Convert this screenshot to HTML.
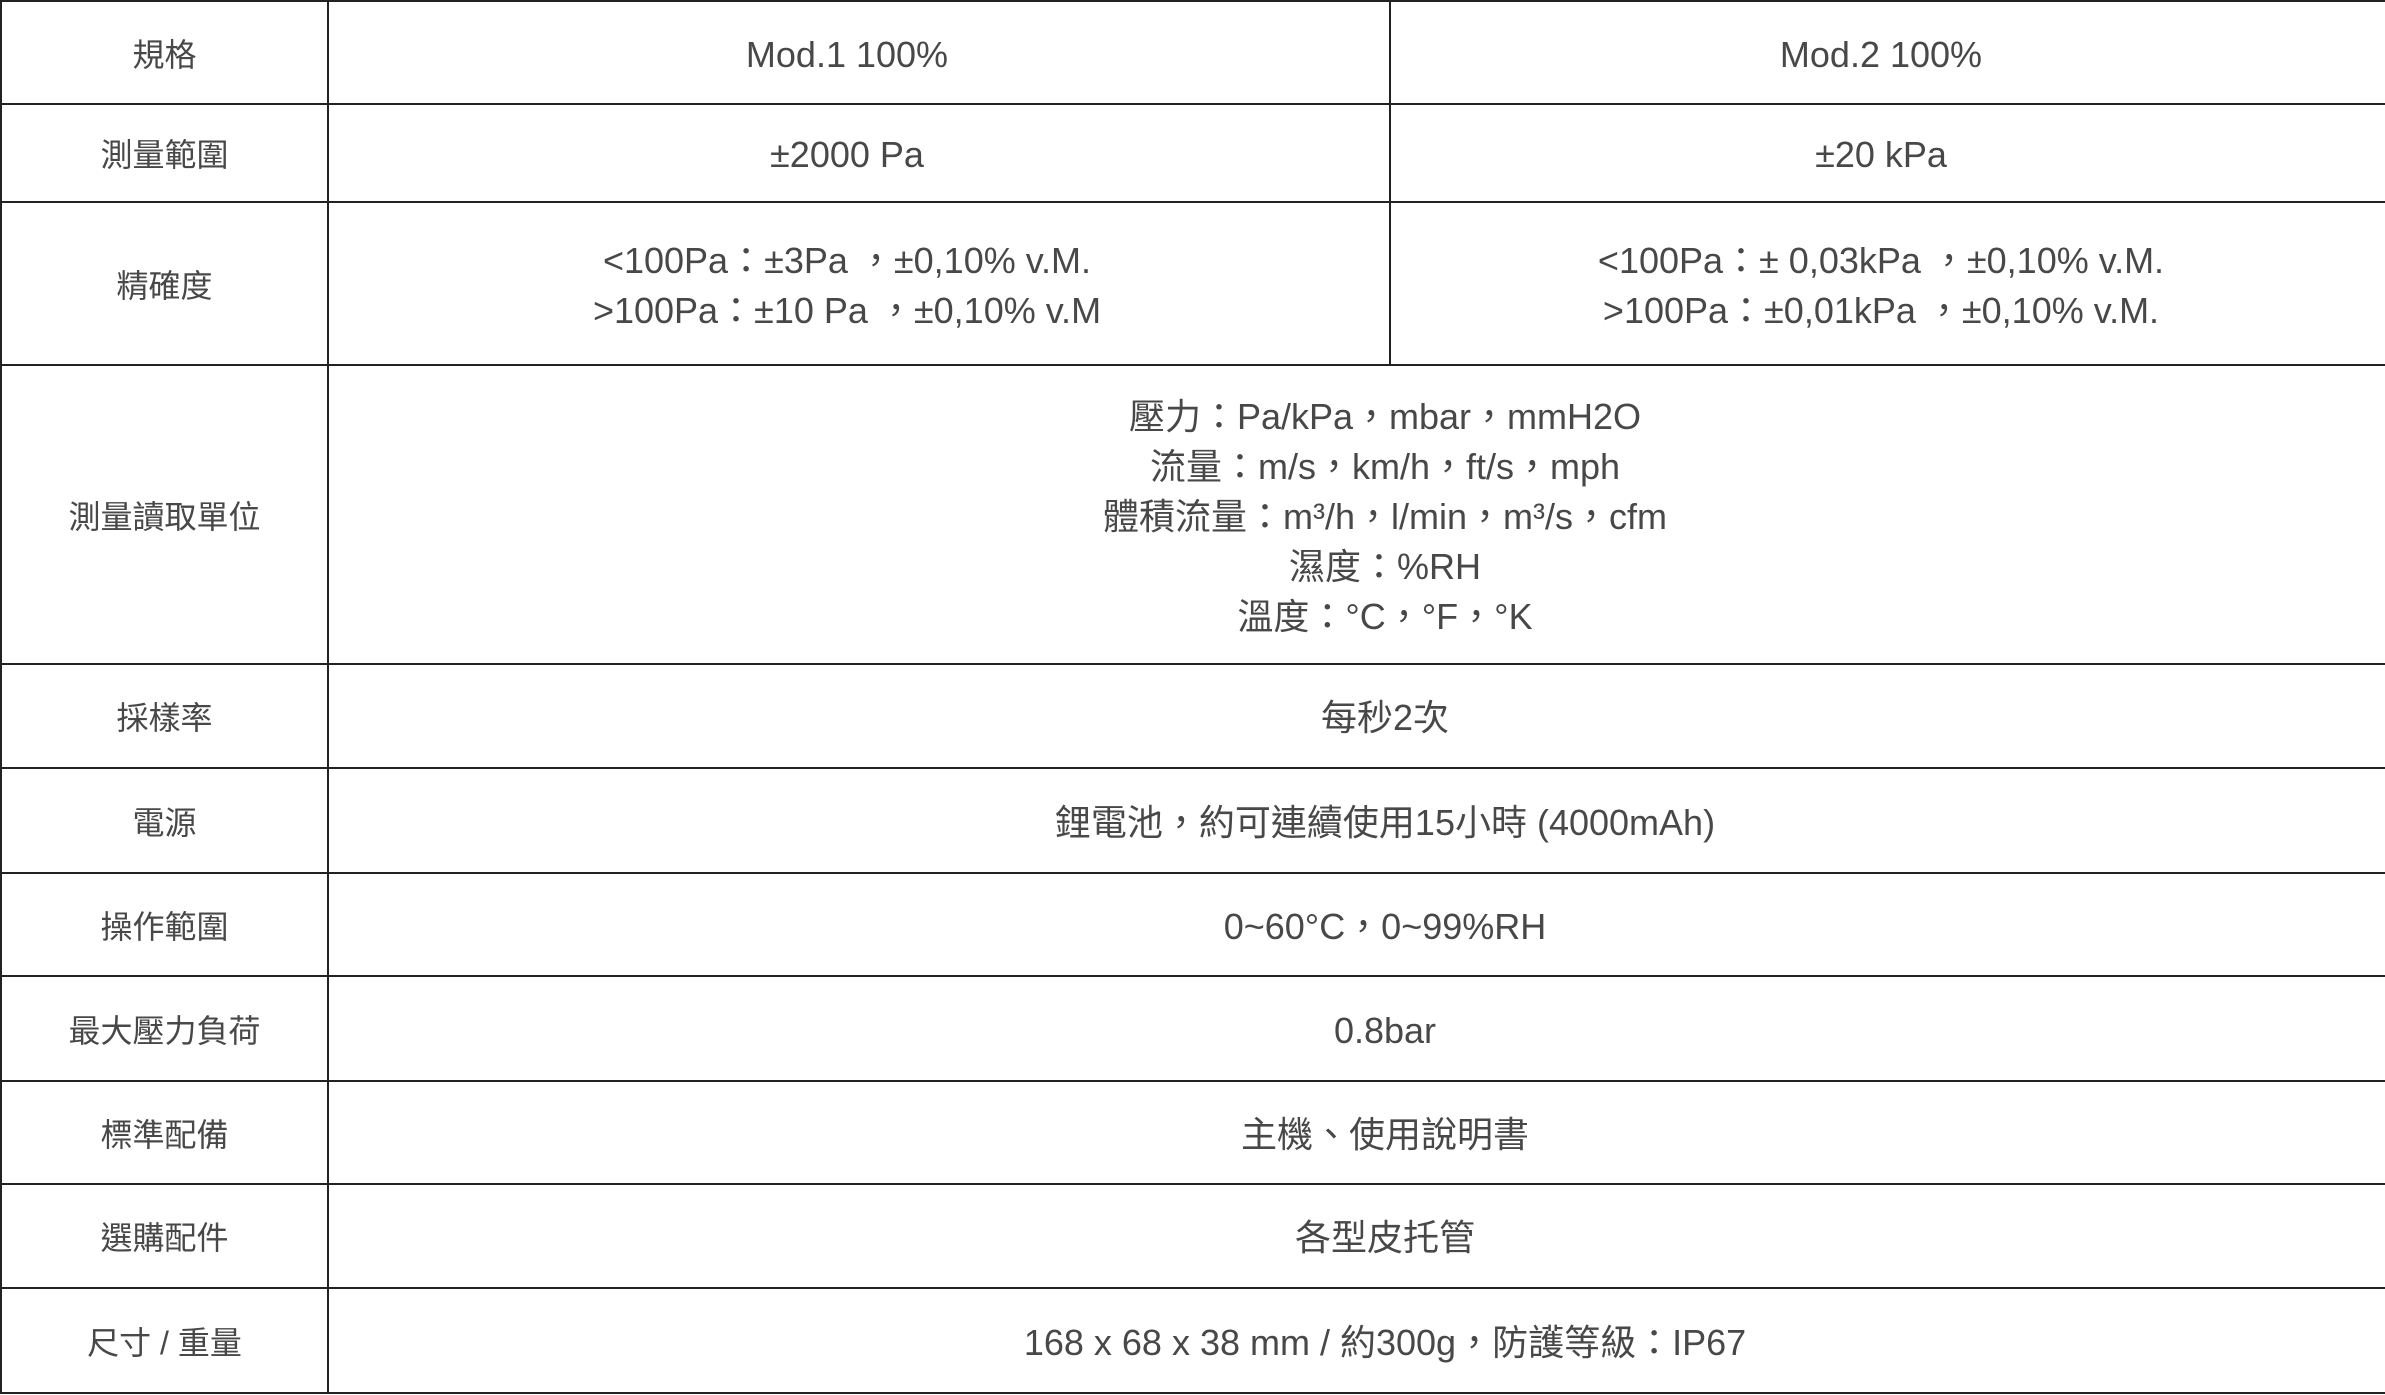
<!DOCTYPE html>
<html><head><meta charset="utf-8"><style>
html,body{margin:0;padding:0;background:#fff;}
body{width:2385px;height:1395px;overflow:hidden;}
table{position:absolute;left:0;top:0;border-collapse:collapse;table-layout:fixed;width:2385px;}
td{border:2px solid #222;text-align:center;vertical-align:middle;padding:4px 0 0 0;color:#484848;
font-family:"Liberation Sans","Noto Sans CJK TC",sans-serif;font-size:36px;line-height:50px;}
td.h{font-size:32px;padding-left:0;}
td.m{padding-left:56px;}
td.c2{padding-right:24px;}
td.c3{padding-right:14px;}
</style></head><body>
<table>
<colgroup><col style="width:327px"><col style="width:1062px"><col style="width:996px"></colgroup>
<tr style="height:103px"><td class="h">規格</td><td class="c2">Mod.1 100%</td><td class="c3">Mod.2 100%</td></tr>
<tr style="height:98px"><td class="h">測量範圍</td><td class="c2">±2000 Pa</td><td class="c3">±20 kPa</td></tr>
<tr style="height:163px"><td class="h">精確度</td><td class="c2">&lt;100Pa：±3Pa ，±0,10% v.M.<br>&gt;100Pa：±10 Pa ，±0,10% v.M</td><td class="c3">&lt;100Pa：± 0,03kPa ，±0,10% v.M.<br>&gt;100Pa：±0,01kPa ，±0,10% v.M.</td></tr>
<tr style="height:299px"><td class="h">測量讀取單位</td><td colspan="2" class="m">壓力：Pa/kPa，mbar，mmH2O<br>流量：m/s，km/h，ft/s，mph<br>體積流量：m³/h，l/min，m³/s，cfm<br>濕度：%RH<br>溫度：°C，°F，°K</td></tr>
<tr style="height:104px"><td class="h">採樣率</td><td colspan="2" class="m">每秒2次</td></tr>
<tr style="height:105px"><td class="h">電源</td><td colspan="2" class="m">鋰電池，約可連續使用15小時 (4000mAh)</td></tr>
<tr style="height:103px"><td class="h">操作範圍</td><td colspan="2" class="m">0~60°C，0~99%RH</td></tr>
<tr style="height:105px"><td class="h">最大壓力負荷</td><td colspan="2" class="m">0.8bar</td></tr>
<tr style="height:103px"><td class="h">標準配備</td><td colspan="2" class="m">主機、使用說明書</td></tr>
<tr style="height:104px"><td class="h">選購配件</td><td colspan="2" class="m">各型皮托管</td></tr>
<tr style="height:105px"><td class="h">尺寸 / 重量</td><td colspan="2" class="m">168 x 68 x 38 mm / 約300g，防護等級：IP67</td></tr>
</table>
</body></html>
